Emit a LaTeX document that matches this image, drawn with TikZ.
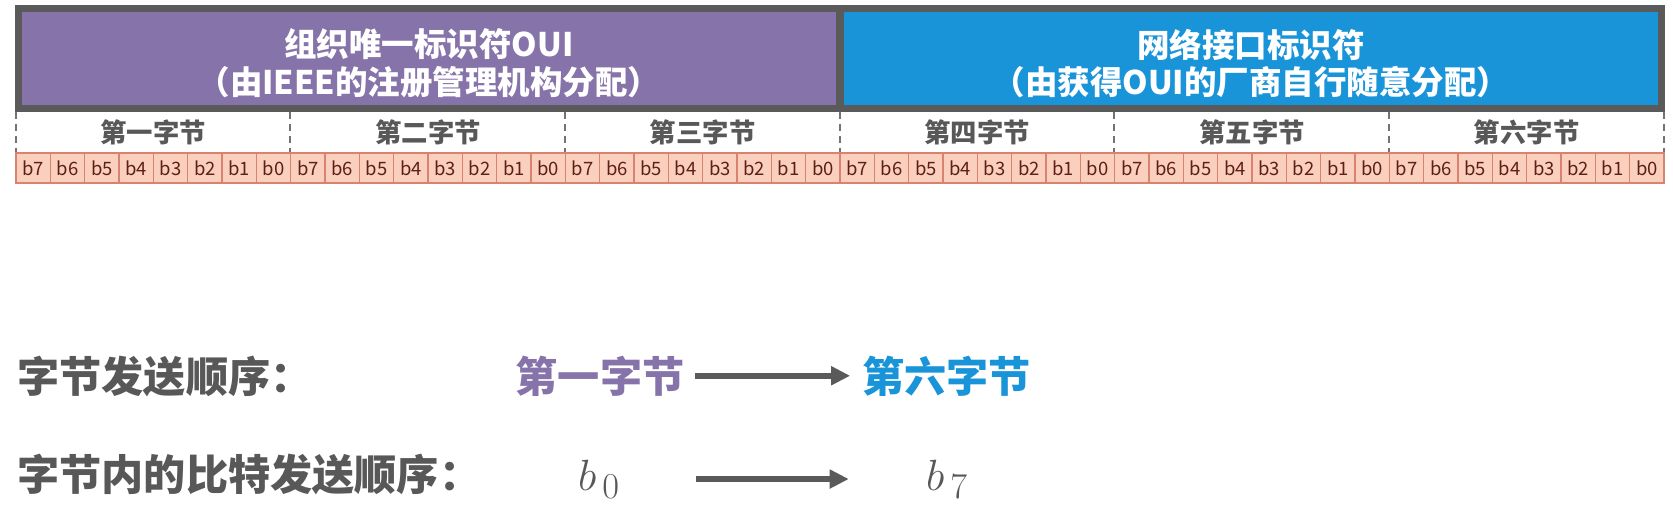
\documentclass[tikz,border=0pt]{standalone}
\usepackage{fontspec}
\setmainfont{Noto Sans CJK SC}
\usepackage{xcolor}
\usepackage{tikz}
\usetikzlibrary{arrows.meta, positioning}

\definecolor{framegray}{HTML}{5A5A5A}
\definecolor{textgray}{HTML}{585858}
\definecolor{ouipurple}{HTML}{8673A9}
\definecolor{nicblue}{HTML}{1A94D9}
\definecolor{bitfill}{HTML}{FBCFBE}
\definecolor{bitdraw}{HTML}{D8826F}
\definecolor{bittext}{HTML}{5E1F14}

\begin{document}
\begin{tikzpicture}[x=0.02cm, y=-0.02cm,
  field/.style={rectangle, draw=framegray, line width=0.14cm,
                minimum width=16.44cm, minimum height=2cm, inner sep=0pt},
  headtext/.style={text=white, align=center,
                   font=\fontsize{18.5}{21.5}\selectfont\bfseries},
  bytecell/.style={rectangle, minimum width=5.493cm, minimum height=0.82cm,
                   inner sep=0pt, text=textgray,
                   font=\fontsize{15}{15}\selectfont\bfseries},
  bitcell/.style={rectangle, draw=bitdraw, fill=bitfill, line width=0.8pt,
                  minimum width=0.6867cm, minimum height=0.6cm, inner sep=0pt,
                  text=bittext, font=\fontsize{10.5}{10.5}\selectfont},
  bytesep/.style={framegray!85, line width=1.1pt, dash pattern=on 0.14cm off 0.1cm},
  order/.style={inner sep=0pt, font=\fontsize{24}{24}\selectfont\bfseries},
  mathlbl/.style={inner sep=0pt, text=textgray, font=\fontsize{28}{28}\selectfont},
  arr/.style={-{Triangle[length=0.38cm, width=0.36cm]}, line width=3.4pt, draw=framegray},
]
  \useasboundingbox (0,0) rectangle (1673,517);

  % address fields
  \node[field, fill=ouipurple] (oui) at (429,58.5) {};
  \node[field, fill=nicblue] (nic) at (1251,58.5) {};
  \node[headtext] (ouitext) at ([yshift=-0.1cm]oui.center)
    {组织唯一标识符OUI\\（由IEEE的注册管理机构分配）};
  \node[headtext] (nictext) at ([yshift=-0.1cm]nic.center)
    {网络接口标识符\\（由获得OUI的厂商自行随意分配）};

  % bytes
  \foreach \name [count=\k from 0] in {第一字节,第二字节,第三字节,第四字节,第五字节,第六字节}
    \node[bytecell] (byte\k) at ({16+274.667*(\k+0.5)},132.5) {\name};
  \foreach \k in {0,...,5}
    \draw[bytesep] (byte\k.north west) -- (byte\k.south west);
  \draw[bytesep] (byte5.north east) -- (byte5.south east);

  % bits
  \foreach \k in {0,...,5}{
    \foreach \b [count=\j from 0] in {7,6,...,0}{
      \pgfmathsetmacro\i{8*\k+\j}
      \node[bitcell] (bit-\k-\b) at ({16+34.333*(\i+0.5)},168) {b\b};
    }
  }

  % sending order
  \node[order, text=textgray, anchor=base west] (bytelbl) at (17,392) {字节发送顺序：};
  \node[order, text=ouipurple, anchor=base] (first) at (600,392) {第一字节};
  \node[order, text=nicblue, right=3.54cm of first] (sixth) {第六字节};
  \draw[arr, shorten <=0.21cm, shorten >=0.23cm] (first) -- (sixth);

  \node[order, text=textgray, anchor=base west] (bitlbl) at (17,490) {字节内的比特发送顺序：};
  \node[mathlbl, anchor=base] (b0) at (599,490) {$b_{\,0}$};
  \node[mathlbl, anchor=base] (b7) at (947,490) {$b_{\,7}$};
  \draw[arr, shorten <=1.52cm, shorten >=1.54cm] (b0) -- (b7);
\end{tikzpicture}
\end{document}
